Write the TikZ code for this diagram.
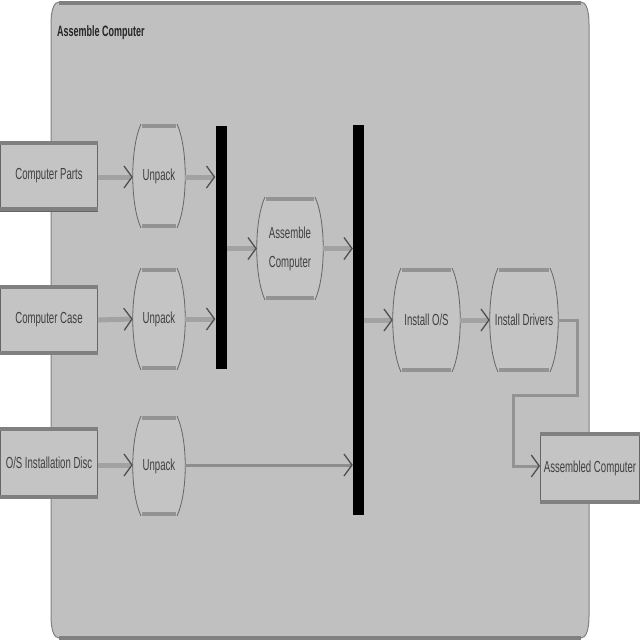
\documentclass[tikz,border=0pt]{standalone}
\usepackage{fontspec}
\setmainfont{Liberation Sans}
\newfontfamily\lblfont[FakeStretch=0.6]{Liberation Sans}
\usetikzlibrary{arrows.meta,calc}
\definecolor{cfill}{HTML}{C0C0C0}
\definecolor{bfill}{HTML}{C4C4C4}
\definecolor{edgec}{HTML}{808080}
\definecolor{linec}{HTML}{666666}
\definecolor{txtc}{HTML}{404040}
\definecolor{shaftc}{HTML}{A2A2A2}
\definecolor{tipc}{HTML}{505050}
\tikzset{
  lbl/.style={text=txtc, font=\lblfont\fontsize{16}{19}\selectfont, inner sep=0pt, align=center},
  obj/.style={lbl, rectangle, fill=bfill, draw=linec, line width=0.8pt},
  thickedge/.style={draw=edgec, line width=4pt},
  actside/.style={draw=linec, line width=0.8pt},
  actnode/.style={lbl, rectangle},
  forkbar/.style={rectangle, fill=black, inner sep=0pt},
  flow/.style={draw=shaftc, line width=5pt,
    -{Straight Barb[length=8pt,width=22pt,line width=1.3pt,color=tipc]}},
  thinflow/.style={draw=edgec!90, line width=3pt,
    -{Straight Barb[length=8pt,width=22pt,line width=1.3pt,color=tipc]}},
}
% action node: name, x1, y1, x2, y2, text
\newcommand\actn[6]{%
  \fill[bfill] (#2+8,#3) -- (#4-8,#3) .. controls (#4+3,#3+24) and (#4+3,#5-24) .. (#4-8,#5)
     -- (#2+8,#5) .. controls (#2-3,#5-24) and (#2-3,#3+24) .. (#2+8,#3) -- cycle;
  \draw[actside] (#4-8,#3) .. controls (#4+3,#3+24) and (#4+3,#5-24) .. (#4-8,#5);
  \draw[actside] (#2+8,#5) .. controls (#2-3,#5-24) and (#2-3,#3+24) .. (#2+8,#3);
  \draw[thickedge, draw=edgec!85] (#2+9,#3+2) -- (#4-9,#3+2);
  \draw[thickedge, draw=edgec!85] (#2+9,#5-2) -- (#4-9,#5-2);
  \node[actnode, minimum width={#4-#2}, minimum height={#5-#3}] (#1) at ({(#2+#4)/2},{(#3+#5)/2}) {#6};
}
\newcommand\objedges[1]{%
  \draw[thickedge] ($(#1.north west)+(0,2)$) -- ($(#1.north east)+(0,2)$);
  \draw[thickedge] ($(#1.south west)+(0,-2)$) -- ($(#1.south east)+(0,-2)$);
}
\begin{document}
\begin{tikzpicture}[x=1pt,y=-1pt]
\useasboundingbox[fill=white] (0,0) rectangle (640,640);
% container
\fill[cfill] (51,24) .. controls (51,10) and (54,2) .. (59,2) -- (581,2)
  .. controls (586,2) and (589,10) .. (589,24) -- (589,616)
  .. controls (589,630) and (586,638) .. (581,638) -- (59,638)
  .. controls (54,638) and (51,630) .. (51,616) -- cycle;
\draw[draw=edgec, line width=1pt] (59,2) .. controls (54,2) and (51,10) .. (51,24) -- (51,616)
  .. controls (51,630) and (54,638) .. (59,638);
\draw[draw=edgec, line width=1pt] (581,2) .. controls (586,2) and (589,10) .. (589,24) -- (589,616)
  .. controls (589,630) and (586,638) .. (581,638);
\draw[thickedge] (59,2.5) -- (581,2.5);
\draw[thickedge] (59,637.5) -- (581,637.5);
\node[lbl, anchor=west, font=\lblfont\bfseries\fontsize{15}{17}\selectfont, text=black!85] (title) at (57,33) {Assemble Computer};

% object nodes
\node[obj, minimum width=97pt, minimum height=70pt] (op) at (49,176) {Computer Parts};
\node[obj, minimum width=97pt, minimum height=69pt] (oc) at (49,320) {Computer Case};
\node[obj, minimum width=97pt, minimum height=71pt] (od) at (49,463) {O/S Installation Disc};
\node[obj, minimum width=99pt, minimum height=71pt] (oa) at (590,468) {Assembled Computer};
\objedges{op}\objedges{oc}\objedges{od}\objedges{oa}

% action nodes
\actn{u1}{133}{124}{185}{228}{Unpack}
\actn{u2}{133}{268}{185}{370}{Unpack}
\actn{u3}{133}{416}{185}{516}{Unpack}
\actn{asm}{257}{197}{323}{300}{Assemble\\[10pt]Computer}
\actn{ios}{393}{268}{460}{372}{Install O/S}
\actn{idr}{490}{268}{558}{372}{Install Drivers}

% fork / join bars
\node[forkbar, minimum width=11pt, minimum height=243pt] (b1) at (221,247) {};
\node[forkbar, minimum width=11pt, minimum height=390pt] (b2) at (358.5,320) {};

% flows
\draw[flow] (op.east |- 0,177) -- (u1.west |- 0,177);
\draw[flow] (u1.east |- 0,177) -- (b1.west |- 0,177);
\draw[flow] (oc.east) -- (u2.west);
\draw[flow] (u2.east) -- (b1.west |- u2.east);
\draw[flow] (b1.east |- asm.west) -- (asm.west);
\draw[flow] (asm.east) -- (b2.west |- asm.east);
\draw[flow] (od.east |- 0,465) -- (u3.west |- 0,465);
\draw[thinflow] (u3.east |- 0,465) -- (b2.west |- 0,465);
\draw[flow] (b2.east |- ios.west) -- (ios.west);
\draw[flow] (ios.east) -- (idr.west);
\draw[draw=edgec!85, line width=3pt, -{Straight Barb[length=8pt,width=22pt,line width=1.3pt,color=tipc]}]
  (idr.east) -| (577,395) -| (513,466) -- (oa.west |- 0,466);
\end{tikzpicture}
\end{document}
